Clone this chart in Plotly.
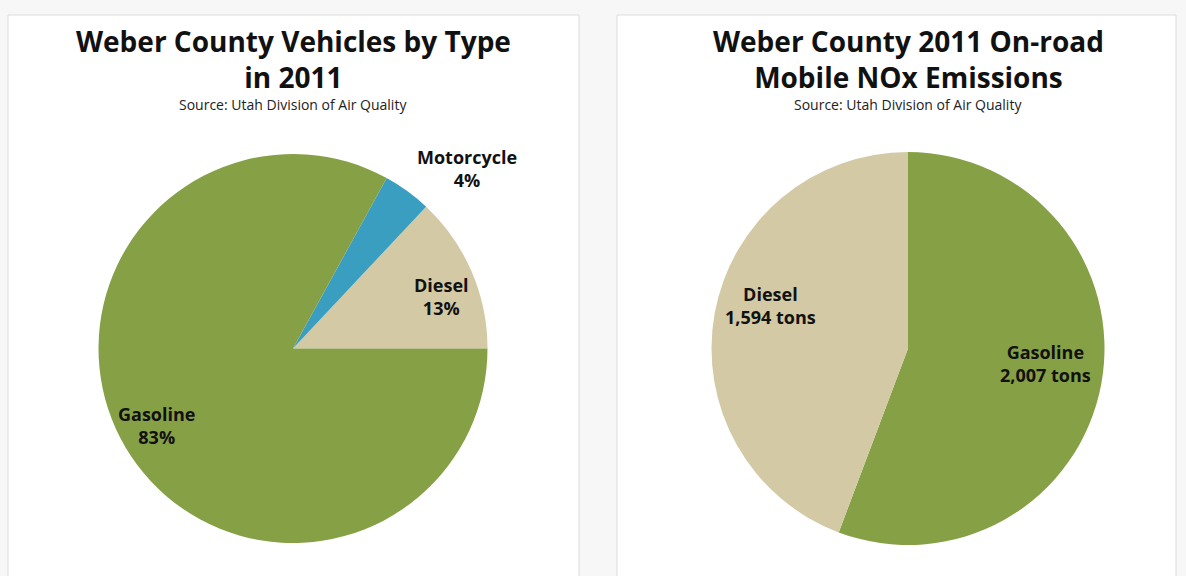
import plotly.graph_objects as go

# Data
veh_labels = ["Diesel", "Motorcycle", "Gasoline"]
veh_values = [13, 4, 83]
veh_colors = ["#D3C9A5", "#3A9EC0", "#86A046"]

nox_labels = ["Gasoline", "Diesel"]
nox_values = [2007, 1594]
nox_colors = ["#86A046", "#D3C9A5"]

W, H = 1186, 576

def px(x):
    return x / W

def py(y):
    return 1 - y / H

fig = go.Figure()

# first slice (Diesel) runs counterclockwise from 3 o'clock
veh_rot = 90 - 360 * veh_values[0] / sum(veh_values)

fig.add_trace(go.Pie(
    labels=veh_labels, values=veh_values, sort=False,
    direction="counterclockwise", rotation=veh_rot,
    marker=dict(colors=veh_colors, line=dict(width=0)),
    textinfo="none", hoverinfo="label+percent", showlegend=False,
    domain=dict(x=[px(94), px(492)], y=[py(543), py(154)]),
))

fig.add_trace(go.Pie(
    labels=nox_labels, values=nox_values, sort=False,
    direction="clockwise", rotation=0,
    marker=dict(colors=nox_colors, line=dict(width=0)),
    textinfo="none", hoverinfo="label+value", showlegend=False,
    domain=dict(x=[px(709), px(1107)], y=[py(545), py(152)]),
))

# Panels
shapes = [
    dict(type="rect", xref="paper", yref="paper", x0=px(8), x1=px(579), y0=py(590), y1=py(15),
         fillcolor="white", line=dict(color="#DCDCDC", width=1), layer="below"),
    dict(type="rect", xref="paper", yref="paper", x0=px(617), x1=px(1176), y0=py(590), y1=py(15),
         fillcolor="white", line=dict(color="#DCDCDC", width=1), layer="below"),
]

TF = "'Open Sans', Lato, sans-serif"
ann = []

def add_text(x, y, text, size, bold=True, color="#111111"):
    t = f"<b>{text}</b>" if bold else text
    ann.append(dict(x=px(x), y=py(y), xref="paper", yref="paper", text=t, showarrow=False,
                    xanchor="center", yanchor="middle", align="center",
                    font=dict(family=TF, size=size, color=color)))

# Titles
add_text(293, 59, "Weber County Vehicles by Type<br>in 2011", 28)
add_text(293, 105, "Source: Utah Division of Air Quality", 14, bold=False, color="#222222")
add_text(908, 59, "Weber County 2011 On-road<br>Mobile NOx Emissions", 28)
add_text(908, 105, "Source: Utah Division of Air Quality", 14, bold=False, color="#222222")

# Slice labels
veh_total = sum(veh_values)
veh_pos = {"Diesel": (441, 296), "Motorcycle": (467, 168), "Gasoline": (156, 425)}
for lab, val in zip(veh_labels, veh_values):
    x, y = veh_pos[lab]
    pct = round(100 * val / veh_total)
    ann.append(dict(x=px(x), y=py(y), xref="paper", yref="paper",
                    text=f"<b>{lab}<br>{pct}%</b>", showarrow=False,
                    xanchor="center", yanchor="middle", align="center",
                    font=dict(family=TF, size=18, color="#111111")))

nox_pos = {"Diesel": (770, 305), "Gasoline": (1045, 363)}
for lab, val in zip(nox_labels, nox_values):
    x, y = nox_pos[lab]
    ann.append(dict(x=px(x), y=py(y), xref="paper", yref="paper",
                    text=f"<b>{lab}<br>{val:,} tons</b>", showarrow=False,
                    xanchor="center", yanchor="middle", align="center",
                    font=dict(family=TF, size=18, color="#111111")))

fig.update_layout(
    width=W, height=H,
    margin=dict(l=0, r=0, t=0, b=0),
    paper_bgcolor="#F7F7F7",
    plot_bgcolor="#F7F7F7",
    shapes=shapes,
    annotations=ann,
)

fig.write_html("out.html", config={"displayModeBar": False},
               post_script="document.body.style.margin='0';")
